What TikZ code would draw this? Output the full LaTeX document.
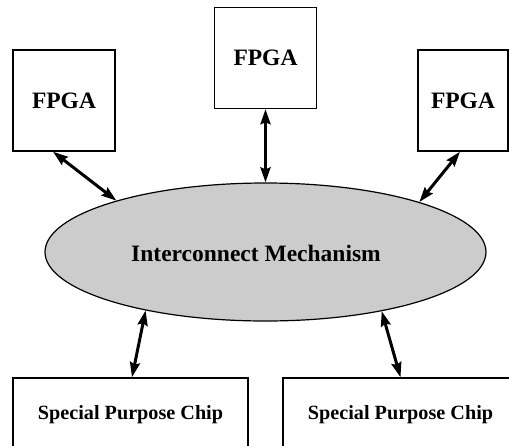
\documentclass[tikz,border=0pt]{standalone}
\usepackage{fontspec}
\setmainfont{Liberation Serif}
\usetikzlibrary{shapes.geometric,arrows.meta}
\definecolor{busgray}{RGB}{204,204,204}
\begin{document}
\begin{tikzpicture}[x=1pt,y=-1pt,
  chipbox/.style={draw=black,line width=1.4pt,fill=white,inner sep=0pt},
  fpga/.style={chipbox,minimum width=102pt,minimum height=101pt,
    font=\fontsize{23.5}{27}\selectfont\bfseries},
  spc/.style={chipbox,minimum width=235pt,minimum height=74pt,
    font=\fontsize{20.2}{24}\selectfont\bfseries},
  link/.style={line width=3pt,{Stealth[length=15pt,width=10pt,inset=2pt]}-{Stealth[length=15pt,width=10pt,inset=2pt]}}]
\useasboundingbox (0,0) rectangle (509,445);
\clip (0,0) rectangle (509,445);

% central interconnect
\node[ellipse,draw=black,line width=1.2pt,fill=busgray,
  minimum width=441pt,minimum height=138pt,inner sep=0pt] (ell) at (265.5,252) {};
\node[font=\fontsize{23.5}{27}\selectfont\bfseries] (ellt) at (256,253) {Interconnect Mechanism};

% FPGAs
\node[fpga] (fl) at (64,100.5) {FPGA};
\node[fpga] (fc) at (265.5,58) {FPGA};
\node[fpga,minimum width=90pt] (fr) at (463,100.5) {FPGA};

% special purpose chips
\node[spc] (sl) at (130.5,415) {Special Purpose Chip};
\node[spc] (sr) at (400.5,415) {Special Purpose Chip};

% links
\draw[link] ([xshift=-11pt]fl.south) -- (ell.161.85);
\draw[link] (fc.south) -- (ell.north);
\draw[link] ([xshift=-3pt]fr.south) -- (ell.18.26);
\draw[link] (ell.206.3) -- ([xshift=1.5pt]sl.north);
\draw[link] (ell.333.7) -- (sr.north);
\end{tikzpicture}
\end{document}
